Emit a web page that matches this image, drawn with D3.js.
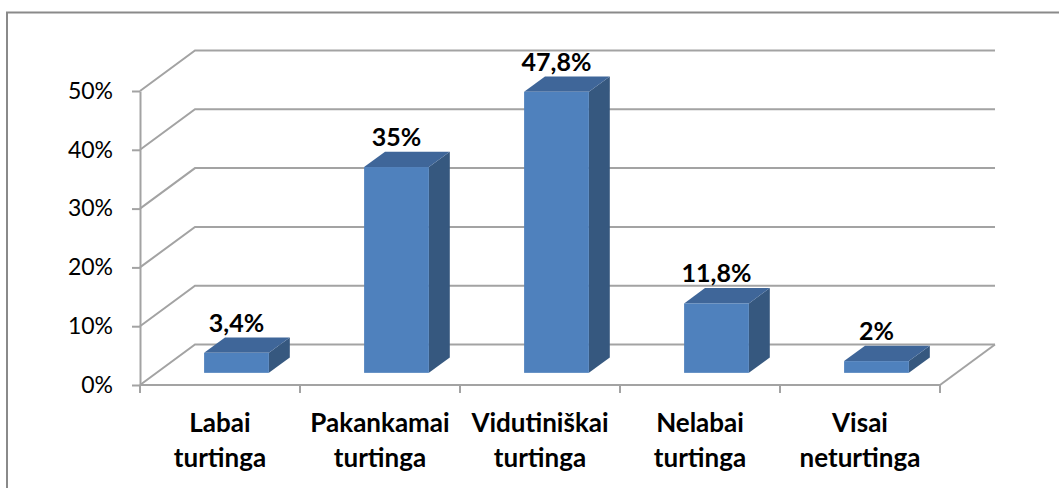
<!DOCTYPE html>
<html>
<head>
<meta charset="utf-8">
<script src="https://cdn.jsdelivr.net/npm/d3@7"></script>
<style>
  html, body { margin: 0; padding: 0; background: #fff; }
  svg { display: block; }
</style>
</head>
<body>
<svg id="chart" width="1059" height="488"></svg>
<script>
// Survey answers: how wealthy respondents consider themselves
const categories = [
  ["Labai", "turtinga"],
  ["Pakankamai", "turtinga"],
  ["Vidutiniškai", "turtinga"],
  ["Nelabai", "turtinga"],
  ["Visai", "neturtinga"]
];
const values = [3.4, 35, 47.8, 11.8, 2];           // percent
const yTicks = [0, 0.1, 0.2, 0.3, 0.4, 0.5];

const svg = d3.select("#chart");
const W = 1059, H = 488;
const FONT = "Lato, 'Open Sans', sans-serif";

// 3D projection: depth offset of the back wall
const DX = 55, DY = -40.5;
// bars occupy the middle slice of the depth
const D0 = 0.3, D1 = 0.68;

const lt = d3.formatLocale({ decimal: ",", thousands: " ", grouping: [3], currency: ["", ""] });
const fmtVal = lt.format(".1~f");

const keys = categories.map(c => c.join(" "));
const x = d3.scaleBand().domain(keys).range([140, 940]).padding(0);
const y = d3.scaleLinear().domain([0, 0.5]).range([385, 91]);
const barW = x.bandwidth() * 0.405;

// chart frame
svg.append("rect")
  .attr("x", 7).attr("y", 12.5)
  .attr("width", W).attr("height", H)
  .attr("fill", "none").attr("stroke", "#8a8a8a").attr("stroke-width", 2);

const grid = svg.append("g").attr("fill", "none").attr("stroke", "#a3a3a3");

// back-wall gridlines with their diagonal on the side wall
yTicks.forEach(t => {
  const yf = y(t);
  grid.append("path")
    .attr("stroke-width", 2)
    .attr("d", `M${x.range()[0]},${yf}L${x.range()[0] + DX},${yf + DY}L${x.range()[1] + DX},${yf + DY}`);
});
// right edge of the floor
grid.append("path")
  .attr("stroke-width", 2)
  .attr("d", `M${x.range()[1]},${y(0)}L${x.range()[1] + DX},${y(0) + DY}`);

// bars
const bars = svg.append("g");
categories.forEach((c, i) => {
  const v = values[i] / 100;
  const xl = x(keys[i]) + (x.bandwidth() - barW) / 2 + D0 * DX;
  const xr = xl + barW;
  const yb = y(0) + D0 * DY;
  const yt = y(v) + D0 * DY;
  const ddx = (D1 - D0) * DX, ddy = (D1 - D0) * DY;
  // side
  bars.append("path")
    .attr("fill", "#36587f")
    .attr("d", `M${xr},${yb}L${xr + ddx},${yb + ddy}L${xr + ddx},${yt + ddy}L${xr},${yt}Z`);
  // top
  bars.append("path")
    .attr("fill", "#3f6699")
    .attr("d", `M${xl},${yt}L${xl + ddx},${yt + ddy}L${xr + ddx},${yt + ddy}L${xr},${yt}Z`);
  // front
  bars.append("rect")
    .attr("x", xl).attr("y", yt)
    .attr("width", barW).attr("height", yb - yt)
    .attr("fill", "#4f81bd");
  // value label
  svg.append("text")
    .attr("x", xl + barW / 2)
    .attr("y", yt - 21)
    .attr("text-anchor", "middle")
    .attr("font-family", FONT)
    .attr("font-weight", "bold")
    .attr("font-size", 25)
    .attr("fill", "#000")
    .text(fmtVal(values[i]) + "%");
});

// value axis
const yAxis = svg.append("g")
  .attr("transform", `translate(${x.range()[0]},0)`)
  .call(d3.axisLeft(y).tickValues(yTicks).tickFormat(d3.format(".0%"))
    .tickSizeInner(8).tickSizeOuter(0).tickPadding(19));
yAxis.selectAll("path, line").attr("stroke", "#a3a3a3").attr("stroke-width", 2);
yAxis.selectAll("text")
  .attr("font-family", FONT)
  .attr("font-size", 23)
  .attr("fill", "#000");

// category axis: baseline with ticks on category boundaries
const xAxis = svg.append("g").attr("stroke", "#a3a3a3").attr("stroke-width", 2);
xAxis.append("line")
  .attr("x1", x.range()[0]).attr("x2", x.range()[1])
  .attr("y1", y(0)).attr("y2", y(0));
const bounds = keys.map(k => x(k)).concat([x.range()[1]]);
bounds.forEach(b => {
  xAxis.append("line")
    .attr("x1", b).attr("x2", b)
    .attr("y1", y(0)).attr("y2", y(0) + 8);
});

// category labels (two lines each)
categories.forEach((c, i) => {
  const t = svg.append("text")
    .attr("text-anchor", "middle")
    .attr("font-family", FONT)
    .attr("font-weight", "bold")
    .attr("font-size", 26)
    .attr("fill", "#000");
  c.forEach((line, j) => {
    t.append("tspan")
      .attr("x", x(keys[i]) + x.bandwidth() / 2)
      .attr("y", 432 + j * 34.5)
      .text(line);
  });
});
</script>
</body>
</html>
